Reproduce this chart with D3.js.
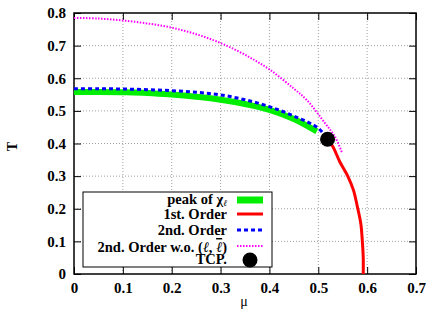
<!DOCTYPE html>
<html>
<head>
<meta charset="utf-8">
<script src="https://cdn.jsdelivr.net/npm/d3@7"></script>
<style>
  body { margin: 0; background: #fff; }
  svg text { font-family: "Liberation Serif", "Times New Roman", "DejaVu Serif", serif !important; }
</style>
</head>
<body>
<div id="chart"></div>
<script>
// curves (mu, T)
var peakChi = [[0, 0.558], [0.05, 0.558], [0.1, 0.557], [0.15, 0.555], [0.2, 0.55], [0.25, 0.543],
  [0.3, 0.534], [0.35, 0.521], [0.4, 0.503], [0.45, 0.475], [0.497, 0.437]];
var firstOrder = [[0.519, 0.413], [0.53, 0.39], [0.544, 0.344], [0.561, 0.298], [0.572, 0.257],
  [0.58, 0.206], [0.587, 0.155], [0.59, 0.104], [0.592, 0.05], [0.592, 0]];
var secondOrder = [[0, 0.568], [0.05, 0.568], [0.1, 0.567], [0.15, 0.565], [0.2, 0.562], [0.25, 0.557],
  [0.3, 0.549], [0.35, 0.534], [0.4, 0.513], [0.45, 0.484], [0.5, 0.447], [0.519, 0.413]];
var secondOrderWo = [[0, 0.785], [0.05, 0.783], [0.1, 0.777], [0.15, 0.768], [0.2, 0.755], [0.25, 0.735],
  [0.3, 0.708], [0.35, 0.672], [0.4, 0.627], [0.45, 0.568], [0.476, 0.534], [0.514, 0.462],
  [0.534, 0.421], [0.549, 0.37]];
var tcp = [0.519, 0.413];
var xTicks = [0, 0.1, 0.2, 0.3, 0.4, 0.5, 0.6, 0.7];
var yTicks = [0, 0.1, 0.2, 0.3, 0.4, 0.5, 0.6, 0.7, 0.8];

var width = 436, height = 322;
var margin = {top: 13, right: 20, bottom: 48, left: 74};
var serif = "'Liberation Serif', 'Times New Roman', serif";

var svg = d3.select("#chart").append("svg")
    .attr("width", width)
    .attr("height", height)
    .attr("font-family", serif);

var x = d3.scaleLinear().domain([0, 0.7]).range([margin.left, width - margin.right]);
var y = d3.scaleLinear().domain([0, 0.8]).range([height - margin.bottom, margin.top]);

// grid
svg.append("g").selectAll("line")
  .data(xTicks.slice(1, -1)).enter().append("line")
    .attr("x1", d => x(d)).attr("x2", d => x(d))
    .attr("y1", y(0)).attr("y2", y(0.8))
    .attr("stroke", "#a0a0a0").attr("stroke-width", 1).attr("stroke-dasharray", "1,2");
svg.append("g").selectAll("line")
  .data(yTicks.slice(1, -1)).enter().append("line")
    .attr("x1", x(0)).attr("x2", x(0.7))
    .attr("y1", d => y(d)).attr("y2", d => y(d))
    .attr("stroke", "#a0a0a0").attr("stroke-width", 1).attr("stroke-dasharray", "1,2");

// axes, ticks pointing inwards on all four sides
var fmt = d3.format(".1~f");
svg.append("g")
    .attr("transform", "translate(0," + y(0) + ")")
    .call(d3.axisBottom(x).tickValues(xTicks).tickSize(-7).tickPadding(8).tickFormat(fmt))
    .call(g => g.select(".domain").remove());
svg.append("g")
    .attr("transform", "translate(" + x(0) + ",0)")
    .call(d3.axisLeft(y).tickValues(yTicks).tickSize(-7).tickPadding(8).tickFormat(fmt))
    .call(g => g.select(".domain").remove());
svg.append("g")
    .attr("transform", "translate(0," + y(0.8) + ")")
    .call(d3.axisTop(x).tickValues(xTicks).tickSize(-7).tickFormat(""))
    .call(g => g.select(".domain").remove());
svg.append("g")
    .attr("transform", "translate(" + x(0.7) + ",0)")
    .call(d3.axisRight(y).tickValues(yTicks).tickSize(-7).tickFormat(""))
    .call(g => g.select(".domain").remove());

svg.selectAll(".tick text")
    .attr("font-family", serif)
    .attr("font-weight", "bold")
    .attr("font-size", 15)
    .attr("fill", "#000");
svg.selectAll(".tick line").attr("stroke", "#000");

// frame
svg.append("rect")
    .attr("x", x(0)).attr("y", y(0.8))
    .attr("width", x(0.7) - x(0)).attr("height", y(0) - y(0.8))
    .attr("fill", "none").attr("stroke", "#000").attr("stroke-width", 1.5);

// axis labels
svg.append("text")
    .attr("transform", "translate(17," + (y(0.4) + 3) + ") rotate(-90)")
    .attr("text-anchor", "middle")
    .attr("font-weight", "bold").attr("font-size", 14)
    .text("T");
svg.append("text")
    .attr("x", 244).attr("y", 306)
    .attr("text-anchor", "middle")
    .attr("font-size", 14)
    .text("μ");

// curves
var line = d3.line().x(d => x(d[0])).y(d => y(d[1])).curve(d3.curveCatmullRom);

var series = [
  {data: peakChi, color: "#00ee00", w: 6, dash: null},
  {data: secondOrderWo, color: "#ff00ff", w: 2, dash: "1.5,1.5"},
  {data: firstOrder, color: "#ff0000", w: 3, dash: null},
  {data: secondOrder, color: "#0000ff", w: 3, dash: "4,3"}
];
svg.append("g").selectAll("path")
  .data(series).enter().append("path")
    .attr("d", d => line(d.data))
    .attr("fill", "none")
    .attr("stroke", d => d.color)
    .attr("stroke-width", d => d.w)
    .attr("stroke-dasharray", d => d.dash);

svg.append("circle")
    .attr("cx", x(tcp[0])).attr("cy", y(tcp[1])).attr("r", 7.5)
    .attr("fill", "#000");

// legend
var legend = svg.append("g");
legend.append("rect")
    .attr("x", 83).attr("y", 192).attr("width", 189).attr("height", 75)
    .attr("fill", "#fff").attr("stroke", "#000").attr("stroke-width", 1);

var rows = [
  {y: 200, color: "#00ee00", w: 7, dash: null},
  {y: 214, color: "#ff0000", w: 3, dash: null},
  {y: 230, color: "#0000ff", w: 3, dash: "4,3"},
  {y: 246, color: "#ff00ff", w: 2, dash: "1.5,1.5"}
];
legend.selectAll("line")
  .data(rows).enter().append("line")
    .attr("x1", 237).attr("x2", 263)
    .attr("y1", d => d.y).attr("y2", d => d.y)
    .attr("stroke", d => d.color)
    .attr("stroke-width", d => d.w)
    .attr("stroke-dasharray", d => d.dash);
legend.append("circle").attr("cx", 250).attr("cy", 260).attr("r", 7.5).attr("fill", "#000");

var lt = legend.append("g")
    .attr("font-weight", "bold").attr("font-size", 14.5).attr("text-anchor", "end");
var t1 = lt.append("text").attr("x", 227).attr("y", 204);
t1.append("tspan").text("peak of χ");
t1.append("tspan").attr("font-size", 9).attr("dy", 2).attr("font-style", "italic").text("ℓ");
lt.append("text").attr("x", 227).attr("y", 219).text("1st. Order");
lt.append("text").attr("x", 227).attr("y", 235).text("2nd. Order");
var t4 = lt.append("text").attr("x", 227).attr("y", 252);
t4.append("tspan").text("2nd. Order w.o. (");
t4.append("tspan").attr("font-style", "italic").attr("font-weight", "normal").text("ℓ");
t4.append("tspan").text(", ");
t4.append("tspan").attr("font-style", "italic").attr("font-weight", "normal")
    .style("text-decoration", "overline").text("ℓ");
t4.append("tspan").text(")");
lt.append("text").attr("x", 227).attr("y", 264).text("TCP.");
</script>
</body>
</html>
